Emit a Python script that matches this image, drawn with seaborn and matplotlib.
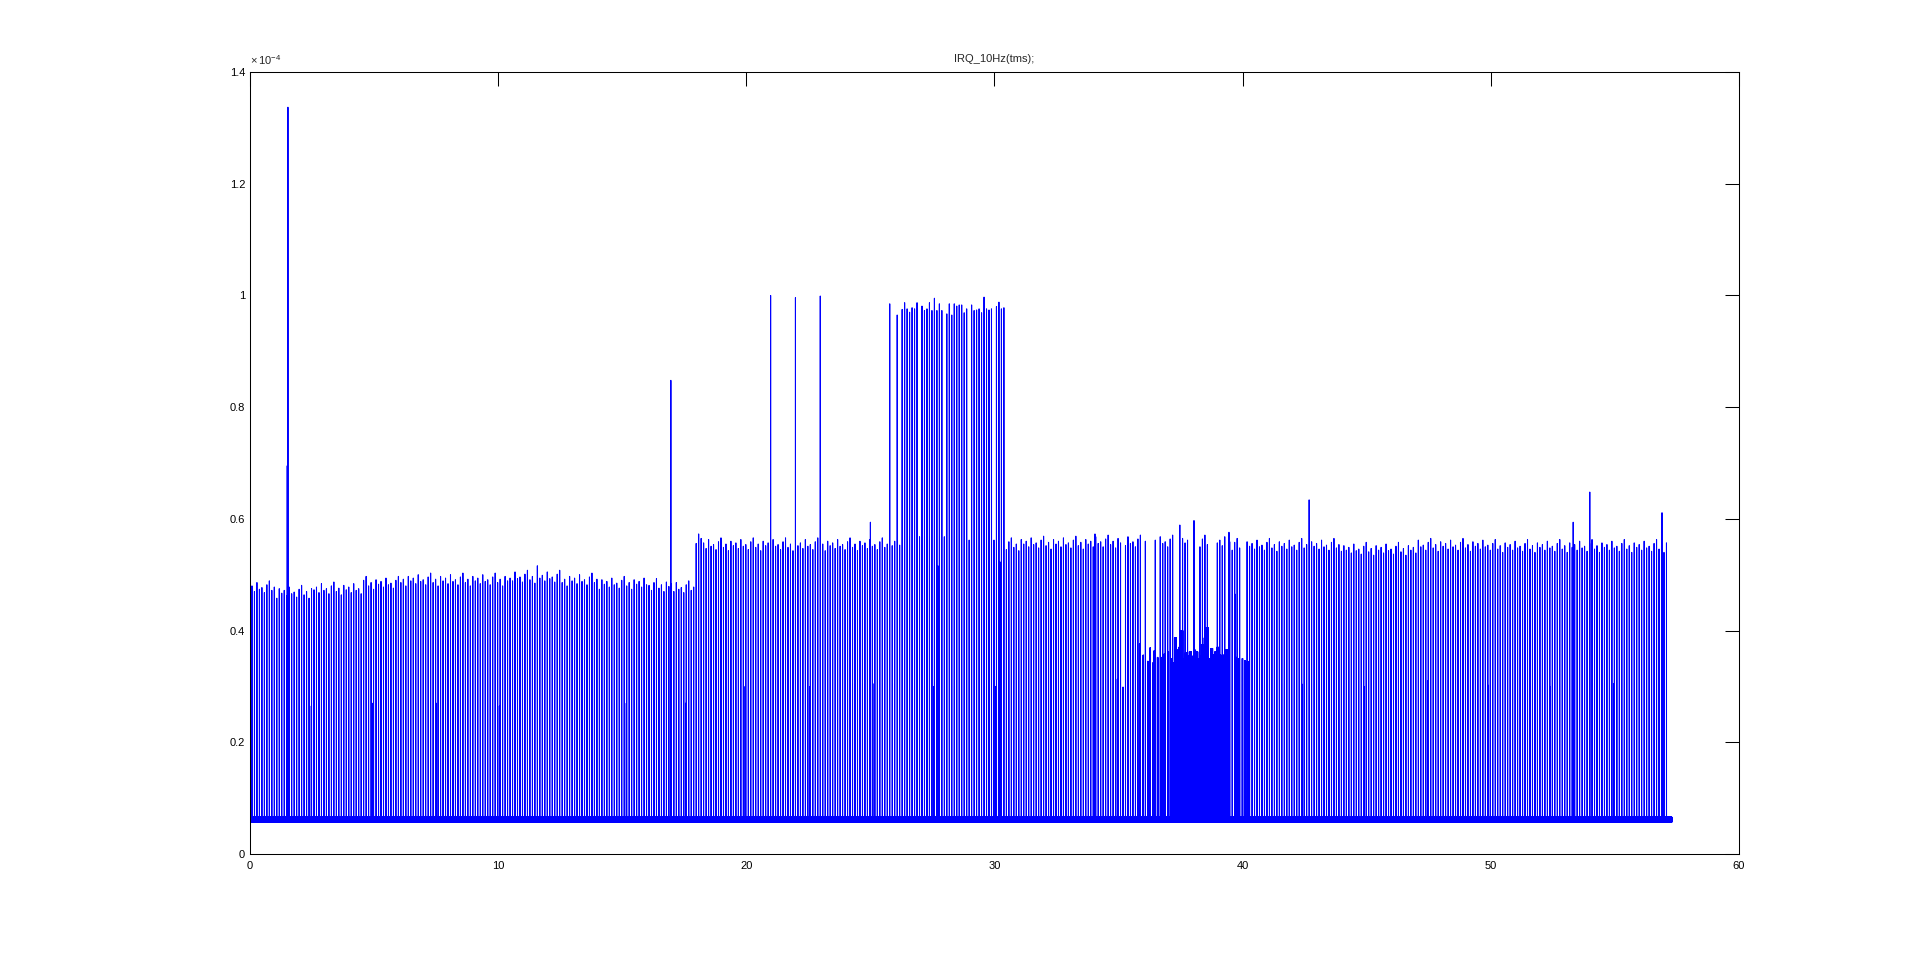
import numpy as np
import pandas as pd
import seaborn as sns
import matplotlib.pyplot as plt
from matplotlib.ticker import FuncFormatter, MultipleLocator

# values below are in units of 1e-4 (as on the y axis)
sample_rate = 1000       # samples per second
record_end = 57.3        # s
pulse_first = 0.08
pulse_last = 57.15
pulse_period = 0.1

# baseline samples cycle through this pattern
baseline_pattern = [0.058, 0.064, 0.060, 0.066, 0.057, 0.062, 0.061]

# height of the regular 10 Hz pulses, by segment start time
level_start = [0.0, 1.0, 2.5, 4.5, 6.0, 10.5, 12.5, 14.0, 16.0, 17.0, 17.95, 18.2,
               31.0, 34.0, 39.5, 44.0, 47.0, 50.0]
level_value = [0.476, 0.468, 0.474, 0.484, 0.490, 0.495, 0.490, 0.484, 0.480, 0.476,
               0.566, 0.553, 0.556, 0.558, 0.552, 0.545, 0.552, 0.550]
# pulse to pulse wobble, cycled
ripple = [0.004, -0.006, 0.010, -0.002, 0.001, -0.008, 0.006, 0.013, -0.004,
          0.002, -0.010, 0.007, -0.001]

# 25.8 - 30.4 s: run of tall pulses, one per 0.1 s
burst_start = 25.78
burst_heights = [0.985, 0.552, 0.560, 0.965, 0.553, 0.975, 0.987, 0.976, 0.970, 0.978,
                 0.976, 0.987, 0.568, 0.981, 0.973, 0.976, 0.987, 0.973, 0.995, 0.973,
                 0.985, 0.973, 0.568, 0.967, 0.985, 0.965, 0.985, 0.981, 0.983, 0.983,
                 0.969, 0.976, 0.562, 0.983, 0.973, 0.974, 0.976, 0.969, 0.997, 0.976,
                 0.974, 0.976, 0.562, 0.980, 0.988, 0.976, 0.978]

# single outlier pulses
spike_t = [1.50, 1.53, 11.58, 16.96, 20.98, 21.98, 22.98, 25.00, 27.72, 30.22, 34.05,
           37.47, 38.04, 39.45, 39.70, 42.68, 53.32, 53.99, 56.90]
spike_v = [0.695, 1.337, 0.516, 0.848, 1.000, 0.996, 0.999, 0.594, 0.516, 0.523, 0.573,
           0.589, 0.597, 0.576, 0.465, 0.634, 0.594, 0.648, 0.611]

# low extra pulses roughly every 2.5 s
mid_t = [2.47, 4.95, 7.50, 10.05, 15.10, 17.55, 19.95, 22.55, 25.10, 27.55, 30.05,
         34.95, 35.18, 42.40, 44.90, 47.45, 49.90, 52.40, 54.95]
mid_v = [0.265, 0.270, 0.270, 0.265, 0.270, 0.270, 0.300, 0.300, 0.305, 0.300, 0.300,
         0.313, 0.299, 0.304, 0.300, 0.310, 0.302, 0.300, 0.305]

# short groups of ~0.35 pulses around the dense block
group_t = [35.84, 35.98, 36.17, 36.26, 36.37, 36.43, 36.56, 36.73, 36.83, 36.99, 37.10,
           37.20, 39.75, 39.85, 39.98, 40.08, 40.19]
group_v = [0.376, 0.356, 0.345, 0.369, 0.342, 0.364, 0.352, 0.352, 0.358, 0.362, 0.350,
           0.342, 0.352, 0.350, 0.350, 0.346, 0.345]
group_len = 0.03

# 37.25 - 39.48 s: dense block, top edge heights left to right
dense_start = 37.25
dense_end = 39.48
dense_top = [0.387, 0.365, 0.370, 0.400, 0.350, 0.360, 0.354, 0.362, 0.354, 0.365,
             0.362, 0.350, 0.355, 0.375, 0.387, 0.405, 0.350, 0.368, 0.356, 0.362,
             0.370, 0.356, 0.355, 0.356, 0.366, 0.362]


def to_idx(times):
    return np.round(np.asarray(times) * sample_rate).astype(int)


t = np.arange(int(record_end * sample_rate)) / sample_rate
y = np.resize(np.array(baseline_pattern), len(t))

pulse_t = np.arange(pulse_first, pulse_last, pulse_period)
seg = np.searchsorted(level_start, pulse_t, side="right") - 1
y[to_idx(pulse_t)] = np.array(level_value)[seg] + np.resize(np.array(ripple), len(pulse_t))

burst_t = burst_start + pulse_period * np.arange(len(burst_heights))
y[to_idx(burst_t)] = burst_heights

edges = to_idx(np.linspace(dense_start, dense_end, len(dense_top) + 1))
for i, h in enumerate(dense_top):
    y[edges[i]:edges[i + 1]:2] = h

for s, v in zip(to_idx(group_t), group_v):
    y[s:s + int(group_len * sample_rate):2] = v

y[to_idx(mid_t)] = mid_v
y[to_idx(spike_t)] = spike_v

df = pd.DataFrame({"time": t, "irq": y * 1e-4})

sns.set_style("white")
plt.rcParams["font.family"] = ["Liberation Sans", "DejaVu Sans"]
plt.rcParams["mathtext.fontset"] = "custom"
plt.rcParams["mathtext.rm"] = "Liberation Sans"

fig = plt.figure(figsize=(19.2, 9.59), dpi=100)
ax = fig.add_axes([0.1302, 0.1095, 0.7755, 0.8154])

sns.lineplot(data=df, x="time", y="irq", ax=ax, color=(0, 0, 1), linewidth=0.75,
             estimator=None, sort=False)

ax.set_xlim(0, 60)
ax.set_ylim(0, 1.4e-4)
ax.xaxis.set_major_locator(MultipleLocator(10))
ax.yaxis.set_major_locator(MultipleLocator(0.2e-4))
ax.yaxis.set_major_formatter(FuncFormatter(lambda v, p: f"{v / 1e-4:.1f}".rstrip("0").rstrip(".")))
ax.set_xlabel("")
ax.set_ylabel("")
ax.tick_params(direction="in", length=10, width=0.75, top=True, right=True,
               labelsize=8, colors="black")
ax.tick_params(axis="x", pad=5)
ax.tick_params(axis="y", pad=3.5)
for sp in ax.spines.values():
    sp.set_linewidth(0.75)
    sp.set_color("black")

ax.set_title("IRQ_10Hz(tms);", fontsize=8, pad=7)
ax.text(0, 1.006, r"$\times\,10^{-4}$", transform=ax.transAxes, fontsize=8,
        ha="left", va="bottom")

fig.savefig("out.png", dpi=100)
